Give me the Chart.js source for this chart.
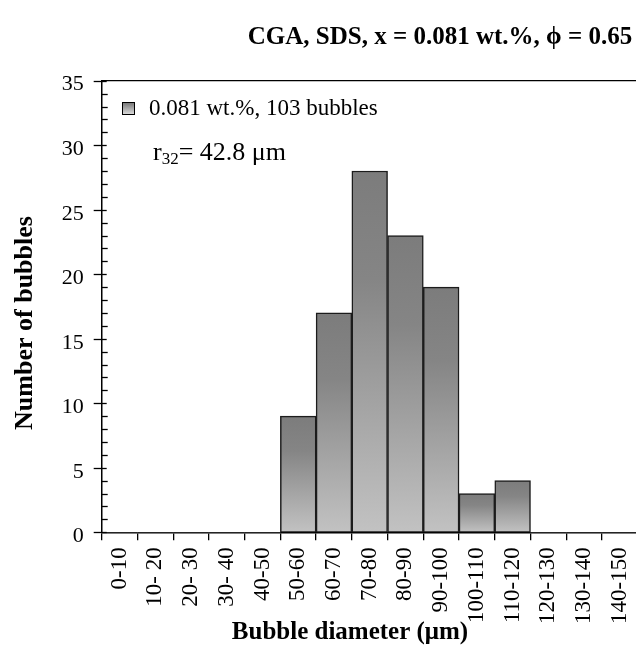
<!DOCTYPE html>
<html>
<head>
<meta charset="utf-8">
<script src="https://cdn.jsdelivr.net/npm/chart.js@4/dist/chart.umd.min.js"></script>
<style>
  html, body { margin: 0; padding: 0; background: #fff; overflow: hidden; }
  canvas { display: block; }
</style>
</head>
<body>
<canvas id="bubbleChart" width="650" height="652" style="width:650px;height:652px"></canvas>
<script>
// bubble size classes (µm) and counts
const binLabels = ['0-10', '10- 20', '20- 30', '30- 40', '40-50', '50-60', '60-70', '70-80',
    '80-90', '90-100', '100-110', '110-120', '120-130', '130-140', '140-150'];
const bubbleCounts = [0, 0, 0, 0, 0, 9, 17, 28, 23, 19, 3, 4, 0, 0, 0];
const yMin = 0;
const yMax = 35;
const yMajorStep = 5;

const chartTitle = 'CGA, SDS, x = 0.081 wt.%, \u03D5 = 0.65';
const xTitle = 'Bubble diameter (\u03BCm)';
const yTitle = 'Number of bubbles';
const legendText = '0.081 wt.%, 103 bubbles';

const serif = '"Liberation Serif", "Times New Roman", serif';

function barGradient(ctx) {
    const chart = ctx.chart;
    if (!chart.chartArea || ctx.type !== 'data') return '#a0a0a0';
    const y = chart.scales.y;
    const top = y.getPixelForValue(ctx.raw);
    const base = y.getPixelForValue(0);
    if (base - top < 1) return '#c0c0c0';
    const g = chart.ctx.createLinearGradient(0, top, 0, base);
    g.addColorStop(0, '#7c7c7c');
    g.addColorStop(0.3, '#858585');
    g.addColorStop(1, '#c2c2c2');
    return g;
}

// titles, legend, r32 note, top frame line and the y tick marks
const decorations = {
    id: 'decorations',
    afterDraw(chart) {
        const c = chart.ctx;
        const area = chart.chartArea;
        const y = chart.scales.y;
        c.save();
        c.strokeStyle = '#000';
        c.lineWidth = 1.3;

        // top frame line
        c.beginPath();
        c.moveTo(area.left, area.top);
        c.lineTo(area.right, area.top);
        c.stroke();

        // y ticks: minor inside, major crossing
        for (let v = yMin; v <= yMax; v++) {
            const py = Math.round(y.getPixelForValue(v)) + 0.5;
            c.beginPath();
            if (v % yMajorStep === 0) {
                c.moveTo(area.left - 8, py);
                c.lineTo(area.left + 5, py);
            } else {
                c.moveTo(area.left, py);
                c.lineTo(area.left + 6, py);
            }
            c.stroke();
        }

        c.fillStyle = '#000';
        c.textBaseline = 'middle';

        // main title
        c.font = 'bold 25px ' + serif;
        c.textAlign = 'center';
        c.fillText(chartTitle, 440, 38);

        // x axis title
        c.font = 'bold 25px ' + serif;
        c.fillText(xTitle, 350, 633);

        // y axis title
        c.save();
        c.translate(25, 323);
        c.rotate(-Math.PI / 2);
        c.font = 'bold 26px ' + serif;
        c.fillText(yTitle, 0, 0);
        c.restore();

        // legend swatch
        const sx = 122, sy = 102, ss = 12;
        const g = c.createLinearGradient(0, sy, 0, sy + ss);
        g.addColorStop(0, '#707070');
        g.addColorStop(1, '#d8d8d8');
        c.fillStyle = g;
        c.fillRect(sx, sy, ss, ss);
        c.lineWidth = 1;
        c.strokeRect(sx + 0.5, sy + 0.5, ss, ss);

        c.fillStyle = '#000';
        c.textAlign = 'left';
        c.font = '23px ' + serif;
        c.fillText(legendText, 149, 109);

        // r32 note
        let x = 153;
        c.font = '26px ' + serif;
        c.fillText('r', x, 153);
        x += c.measureText('r').width;
        c.font = '17px ' + serif;
        c.fillText('32', x, 160);
        x += c.measureText('32').width;
        c.font = '26px ' + serif;
        c.fillText('= 42.8 \u03BCm', x, 153);

        c.restore();
    }
};

new Chart(document.getElementById('bubbleChart'), {
    type: 'bar',
    data: {
        labels: binLabels,
        datasets: [{
            label: legendText,
            data: bubbleCounts,
            backgroundColor: barGradient,
            borderColor: '#1c1c1c',
            borderWidth: ctx => (ctx.raw > 0 ? 1.5 : 0),
            borderSkipped: false,
            categoryPercentage: 1,
            barPercentage: 1
        }]
    },
    options: {
        responsive: false,
        devicePixelRatio: 1,
        animation: false,
        layout: { padding: { top: 80.7, right: 12.3, bottom: 0, left: 0 } },
        plugins: {
            legend: { display: false },
            title: { display: false },
            tooltip: { enabled: false }
        },
        scales: {
            x: {
                offset: true,
                grid: {
                    display: true,
                    offset: true,
                    drawOnChartArea: false,
                    drawTicks: true,
                    tickLength: 8,
                    color: '#000',
                    lineWidth: 1.3
                },
                border: { display: true, color: '#000', width: 1.5 },
                ticks: {
                    color: '#000',
                    font: { family: serif, size: 23 },
                    maxRotation: 90,
                    minRotation: 90,
                    autoSkip: false,
                    padding: 7
                },
                afterFit: scale => {
                    scale.height = 652 - 532.3;
                    scale.paddingLeft = 0;
                    scale.paddingRight = 0;
                }
            },
            y: {
                min: yMin,
                max: yMax,
                grid: { display: false, drawTicks: false },
                border: { display: true, color: '#000', width: 1.5 },
                ticks: {
                    stepSize: 1,
                    autoSkip: false,
                    color: '#000',
                    font: { family: serif, size: 22 },
                    padding: 18,
                    labelOffset: 4,
                    callback: v => (v % yMajorStep === 0 ? v : '')
                },
                afterFit: scale => {
                    scale.width = 101.7;
                    scale.paddingTop = 0;
                    scale.paddingBottom = 0;
                }
            }
        }
    },
    plugins: [decorations]
});
</script>
</body>
</html>
